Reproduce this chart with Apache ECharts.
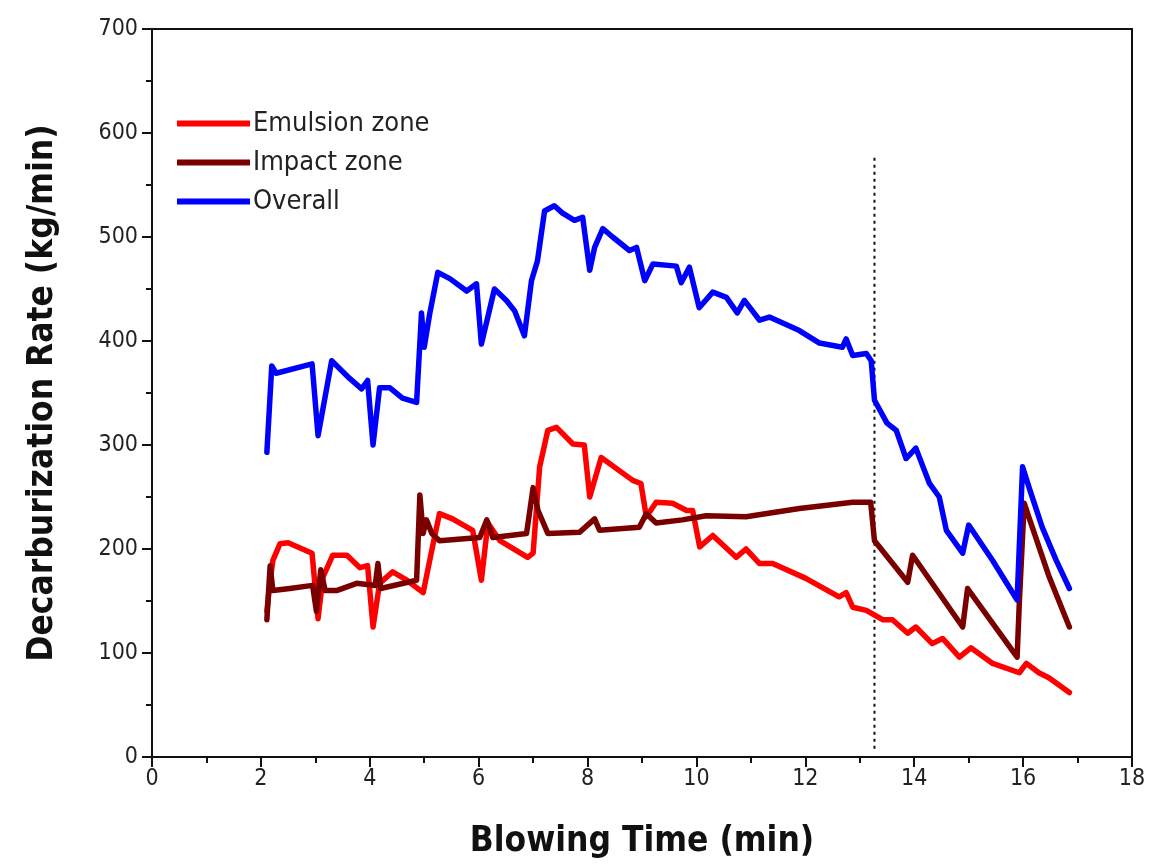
<!DOCTYPE html>
<html>
<head>
<meta charset="utf-8">
<script src="https://cdn.jsdelivr.net/npm/echarts@6/dist/echarts.min.js"></script>
<style>html,body{margin:0;padding:0;background:#fff;}#chart{width:1155px;height:866px;}</style>
</head>
<body>
<div id="chart"></div>
<script>
// ---- Data ----
const xTicks = [0, 2, 4, 6, 8, 10, 12, 14, 16, 18];
const yTicks = [0, 100, 200, 300, 400, 500, 600, 700];

const emulsionTime = [2.11, 2.16, 2.22, 2.35, 2.5, 2.94, 3.05, 3.14, 3.32, 3.58, 3.82, 3.96, 4.06, 4.18, 4.42, 4.68, 4.98, 5.14, 5.28, 5.52, 5.89, 6.05, 6.17, 6.39, 6.9, 7.0, 7.12, 7.27, 7.43, 7.73, 7.94, 8.04, 8.25, 8.83, 8.98, 9.08, 9.26, 9.56, 9.82, 9.93, 10.06, 10.3, 10.73, 10.91, 11.16, 11.4, 12.0, 12.62, 12.75, 12.87, 13.12, 13.42, 13.6, 13.88, 14.03, 14.33, 14.52, 14.83, 15.04, 15.44, 15.93, 16.06, 16.29, 16.48, 16.85];
const emulsionRate = [140, 165, 189, 205, 206, 196, 133, 173, 194, 194, 182, 184, 125, 167, 178, 170, 158, 199, 234, 229, 218, 170, 225, 208, 192, 196, 279, 314, 317, 301, 300, 250, 288, 266, 263, 231, 245, 244, 237, 237, 202, 213, 192, 200, 186, 186, 172, 154, 158, 144, 141, 132, 132, 119, 125, 109, 114, 96, 105, 90, 81, 90, 81, 76, 62];

const impactTime = [2.11, 2.17, 2.22, 2.53, 2.95, 3.02, 3.1, 3.18, 3.39, 3.76, 4.1, 4.15, 4.2, 4.86, 4.92, 4.98, 5.04, 5.14, 5.28, 6.02, 6.15, 6.26, 6.88, 7.0, 7.09, 7.27, 7.85, 8.13, 8.22, 8.95, 9.08, 9.26, 9.74, 10.18, 10.91, 11.89, 12.87, 13.2, 13.27, 13.88, 13.97, 14.89, 14.98, 15.89, 15.93, 16.02, 16.11, 16.48, 16.85];
const impactRate = [132, 184, 160, 162, 165, 140, 180, 160, 160, 167, 165, 186, 162, 170, 252, 215, 228, 215, 208, 211, 228, 211, 215, 259, 237, 215, 216, 229, 218, 221, 234, 225, 228, 232, 231, 239, 245, 245, 208, 168, 194, 125, 162, 96, 148, 244, 230, 173, 125];

const overallTime = [2.11, 2.2, 2.28, 2.94, 3.05, 3.3, 3.63, 3.85, 3.96, 4.06, 4.18, 4.37, 4.6, 4.86, 4.95, 5.0, 5.1, 5.25, 5.47, 5.78, 5.96, 6.05, 6.29, 6.51, 6.66, 6.84, 6.97, 7.08, 7.21, 7.39, 7.54, 7.76, 7.91, 8.04, 8.13, 8.28, 8.46, 8.77, 8.9, 9.05, 9.2, 9.63, 9.72, 9.87, 10.05, 10.3, 10.55, 10.75, 10.88, 11.16, 11.34, 11.89, 12.26, 12.68, 12.75, 12.87, 13.12, 13.21, 13.27, 13.5, 13.67, 13.85, 14.03, 14.28, 14.46, 14.59, 14.89, 15.0, 15.44, 15.89, 15.99, 16.11, 16.35, 16.6, 16.85];
const overallRate = [293, 376, 369, 378, 309, 381, 364, 354, 362, 300, 355, 355, 345, 341, 427, 394, 426, 466, 460, 448, 455, 397, 450, 439, 429, 405, 458, 477, 525, 530, 523, 516, 519, 468, 490, 508, 500, 487, 490, 458, 474, 472, 456, 471, 432, 447, 442, 427, 439, 420, 423, 410, 398, 394, 402, 386, 388, 381, 343, 321, 314, 287, 297, 263, 250, 218, 196, 223, 189, 151, 279, 259, 221, 190, 162];

const markerTime = [13.27, 13.27];
const markerRate = [8, 578];

// ---- Build ----
const zip = (a, b) => a.map((v, i) => [v, b[i]]);
const FONT = 'DejaVu Sans Condensed, DejaVu Sans, sans-serif';

const chart = echarts.init(document.getElementById('chart'), null, {renderer: 'canvas'});
chart.setOption({
  backgroundColor: '#ffffff',
  animation: false,
  grid: {left: 152, right: 23, top: 29, bottom: 109, show: true, borderColor: '#111', borderWidth: 2, backgroundColor: 'transparent'},
  legend: {
    data: ['Emulsion zone', 'Impact zone', 'Overall'],
    orient: 'vertical', left: 172, top: 105, itemGap: 12,
    icon: 'rect', itemWidth: 73, itemHeight: 6,
    textStyle: {fontFamily: FONT, fontSize: 27, color: '#222', padding: [0, 0, 0, -2]}
  },
  xAxis: {
    type: 'value', min: 0, max: 18, interval: 2,
    name: 'Blowing Time (min)', nameLocation: 'middle', nameGap: 67,
    nameTextStyle: {fontFamily: FONT, fontSize: 35, fontWeight: 'bold', color: '#111'},
    axisLine: {show: true, onZero: false, lineStyle: {color: '#111', width: 2}},
    axisTick: {show: true, inside: false, length: 10, lineStyle: {color: '#111', width: 2}},
    minorTick: {show: true, splitNumber: 2, length: 6, lineStyle: {color: '#111', width: 2}},
    splitLine: {show: false},
    axisLabel: {fontFamily: FONT, fontSize: 23, color: '#222', margin: 11,
      formatter: v => xTicks.includes(v) ? String(v) : ''}
  },
  yAxis: {
    type: 'value', min: 0, max: 700, interval: 100,
    name: 'Decarburization Rate (kg/min)', nameLocation: 'middle', nameGap: 92, nameRotate: 90,
    nameTextStyle: {fontFamily: FONT, fontSize: 35, fontWeight: 'bold', color: '#111'},
    axisLine: {show: true, onZero: false, lineStyle: {color: '#111', width: 2}},
    axisTick: {show: true, inside: false, length: 10, lineStyle: {color: '#111', width: 2}},
    minorTick: {show: true, splitNumber: 2, length: 6, lineStyle: {color: '#111', width: 2}},
    splitLine: {show: false},
    axisLabel: {fontFamily: FONT, fontSize: 23, color: '#222', margin: 14,
      formatter: v => yTicks.includes(v) ? String(v) : ''}
  },
  series: [
    {name: 'Emulsion zone', type: 'line', data: zip(emulsionTime, emulsionRate), symbol: 'none', z: 3,
      color: '#ff0000', lineStyle: {color: '#ff0000', width: 5.5, join: 'round', cap: 'round'}},
    {name: 'Impact zone', type: 'line', data: zip(impactTime, impactRate), symbol: 'none', z: 4,
      color: '#7a0000', lineStyle: {color: '#7a0000', width: 5.5, join: 'round', cap: 'round'}},
    {name: 'Overall', type: 'line', data: zip(overallTime, overallRate), symbol: 'none', z: 5,
      color: '#0000ff', lineStyle: {color: '#0000ff', width: 5.5, join: 'round', cap: 'round'}},
    {name: 'marker', type: 'line', data: zip(markerTime, markerRate), symbol: 'none', z: 2,
      silent: true, color: '#111', lineStyle: {color: '#111', width: 2, type: [3, 4]}}
  ]
});
</script>
</body>
</html>
